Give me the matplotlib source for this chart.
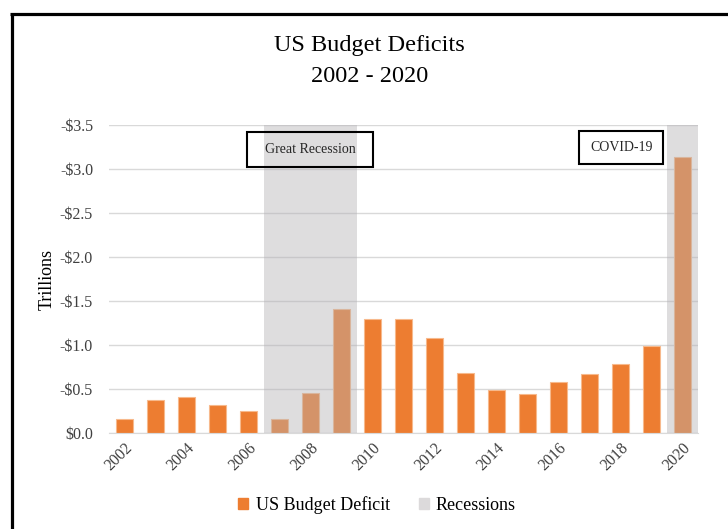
import matplotlib
matplotlib.use('Agg')
import matplotlib.pyplot as plt
from matplotlib.patches import Patch, Rectangle
from matplotlib.lines import Line2D

# 数据
years = list(range(2002, 2021))
deficit = [0.158, 0.378, 0.413, 0.318, 0.248, 0.161, 0.459, 1.413, 1.294, 1.300,
           1.077, 0.680, 0.485, 0.442, 0.585, 0.665, 0.779, 0.984, 3.132]
recession_years = [2007, 2008, 2009, 2020]
recession_level = 3.5
tick_years = list(range(2002, 2021, 2))

plt.rcParams['font.family'] = ['Liberation Serif', 'DejaVu Serif']

fig = plt.figure(figsize=(7.28, 5.29), dpi=100)
ax = fig.add_axes([109 / 728, 1 - 433 / 529, 589 / 728, 308 / 529])

x = list(range(len(years)))
ax.bar(x, deficit, width=0.56, color='#ED7D31', edgecolor='#F7B98C', linewidth=0.8, zorder=2)
rx = [years.index(y) for y in recession_years]
ax.bar(rx, [recession_level] * len(rx), width=1.0, color='#B3B1B4', alpha=0.43, linewidth=0, zorder=3)

ax.set_xlim(-0.5, len(years) - 0.5)
ax.set_ylim(0, 3.5)
ax.set_yticks([i * 0.5 for i in range(8)])
ax.set_yticklabels(['$0.0' if v == 0 else '-$%.1f' % v for v in ax.get_yticks()], fontsize=11.5, color='#404040')
ax.grid(axis='y', color='#D9D9D9', linewidth=1, zorder=0)
ax.set_axisbelow(True)
ax.tick_params(length=0)
ax.tick_params(axis='y', pad=11.5)
ax.tick_params(axis='x', pad=5)
ax.set_xticks([years.index(y) for y in tick_years])
ax.set_xticklabels([str(y) for y in tick_years], rotation=45, ha='right', va='top',
                   rotation_mode='anchor', fontsize=11.5, color='#404040')
for s in ['left', 'right', 'top']:
    ax.spines[s].set_visible(False)
ax.spines['bottom'].set_color('#D9D9D9')
ax.set_ylabel('Trillions', fontsize=13, labelpad=3)

# 标注框
def box(x0, x1, y0, y1, label, tx, ty):
    ax.add_patch(Rectangle((x0, y0), x1 - x0, y1 - y0, fill=False, edgecolor='black', linewidth=1.5, zorder=5))
    ax.text(tx, ty, label, ha='center', va='center', fontsize=10, color='#262626', zorder=6)

box(3.95, 8.02, 3.02, 3.42, 'Great Recession', 6.0, 3.22)
box(14.66, 17.37, 3.06, 3.43, 'COVID-19', 16.05, 3.245)

fig.text(0.508, 1 - 45 / 529, 'US Budget Deficits', ha='center', va='center', fontsize=17.5)
fig.text(0.508, 1 - 76 / 529, '2002 - 2020', ha='center', va='center', fontsize=17.5)

handles = [Patch(color='#ED7D31'), Patch(color='#DCDADB')]
fig.legend(handles, ['US Budget Deficit', 'Recessions'], loc='center', bbox_to_anchor=(0.518, 1 - 505 / 529),
           ncol=2, frameon=False, fontsize=13, handlelength=0.55, handleheight=0.6, handletextpad=0.4,
           columnspacing=1.6)

# 外框
fig.add_artist(Line2D([11.5 / 728, 11.5 / 728], [0, 1 - 15 / 529], color='black', linewidth=2.3,
                      solid_capstyle='butt'))
fig.add_artist(Line2D([10 / 728, 1], [1 - 14 / 529, 1 - 14 / 529], color='black', linewidth=2.3,
                      solid_capstyle='butt'))

fig.savefig('out.png', dpi=100)
